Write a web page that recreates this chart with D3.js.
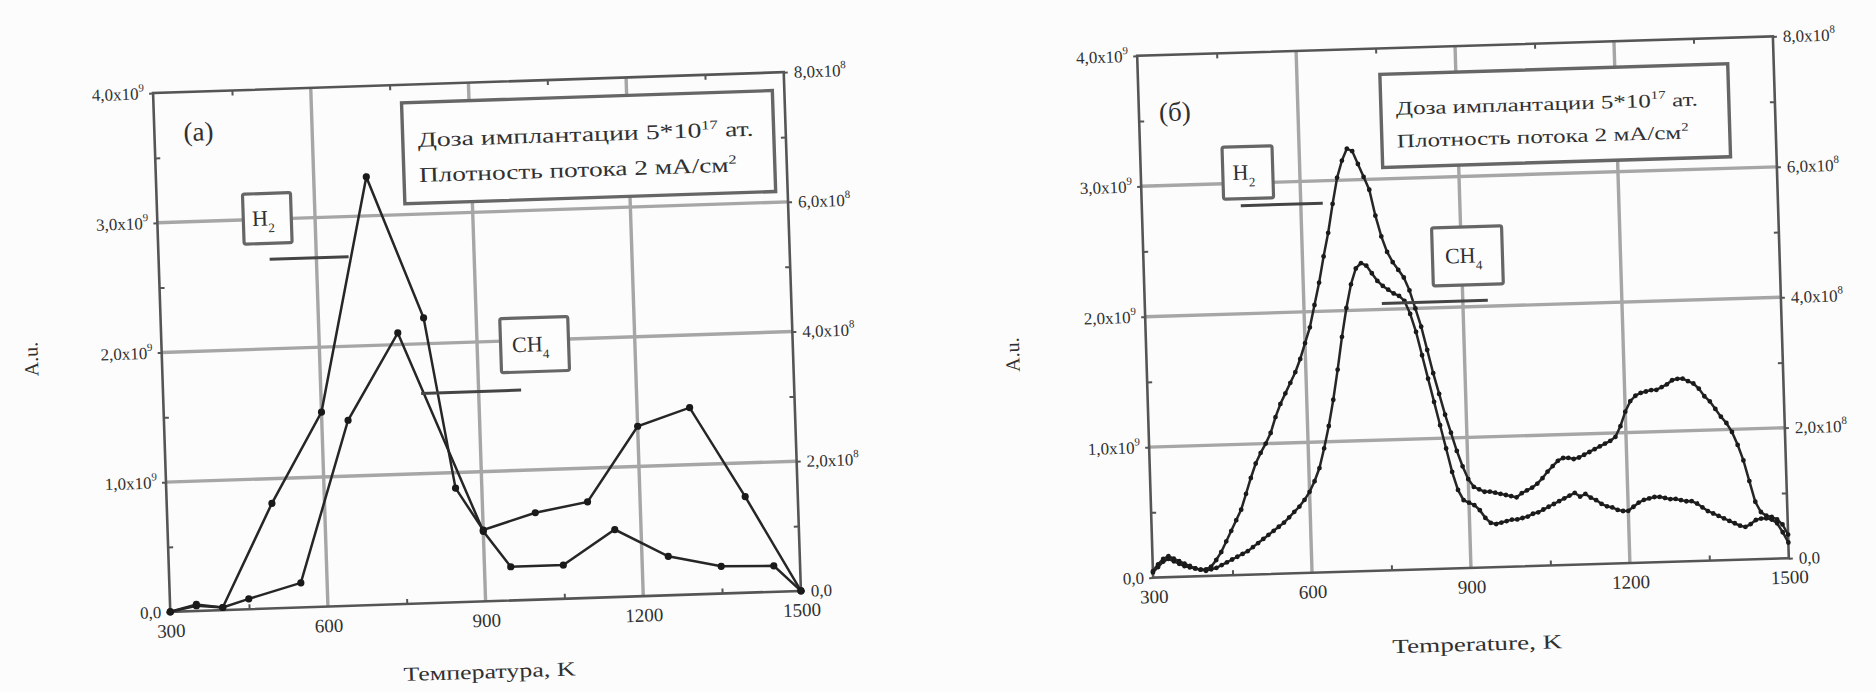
<!DOCTYPE html>
<html>
<head>
<meta charset="utf-8">
<script src="https://d3js.org/d3.v7.min.js"></script>
<style>
  body { margin: 0; background: #fcfcfc; }
  text { font-family: "Liberation Serif", "DejaVu Serif", serif; fill: #303030; }
</style>
</head>
<body>
<div id="chart"></div>
<script>

// ---- data ----
// axis ticks
const tempTicks = [300, 600, 900, 1200, 1500]
const tempMinor = [450, 750, 1050, 1350]
const gridTemps = [600, 900, 1200]
const leftTicks = [0, 1, 2, 3, 4]        // x10^9
const leftGrid = [1, 2, 3]
const leftMinor = [0.5, 1.5, 2.5, 3.5]
const rightTicks = [0, 2, 4, 6, 8]       // x10^8
const rightMinor = [1, 3, 5, 7]

// panel (a): H2 on left axis, CH4 on right axis
const tempH2a = [300, 350, 400, 500, 600, 700, 800, 850, 900, 1000, 1100, 1200, 1300, 1400, 1500]
const h2a = [0, 0.05, 0.02, 0.81, 1.5, 3.3, 2.2, 0.88, 0.55, 0.67, 0.74, 1.31, 1.44, 0.74, 0]
const tempCH4a = [300, 350, 400, 450, 550, 650, 750, 900, 950, 1050, 1150, 1250, 1350, 1450, 1500]
const ch4a = [0, 0.08, 0.04, 0.16, 0.38, 2.86, 4.18, 1.08, 0.52, 0.52, 1.04, 0.6, 0.42, 0.4, 0]

// panel (b): dense measurement, every 10 K
const tempB = [
  300, 310, 320, 330, 340, 350, 360, 370, 380, 390,
  400, 410, 420, 430, 440, 450, 460, 470, 480, 490,
  500, 510, 520, 530, 540, 550, 560, 570, 580, 590,
  600, 610, 620, 630, 640, 650, 660, 670, 680, 690,
  700, 710, 720, 730, 740, 750, 760, 770, 780, 790,
  800, 810, 820, 830, 840, 850, 860, 870, 880, 890,
  900, 910, 920, 930, 940, 950, 960, 970, 980, 990,
  1000, 1010, 1020, 1030, 1040, 1050, 1060, 1070, 1080, 1090,
  1100, 1110, 1120, 1130, 1140, 1150, 1160, 1170, 1180, 1190,
  1200, 1210, 1220, 1230, 1240, 1250, 1260, 1270, 1280, 1290,
  1300, 1310, 1320, 1330, 1340, 1350, 1360, 1370, 1380, 1390,
  1400, 1410, 1420, 1430, 1440, 1450, 1460, 1470, 1480, 1490,
  1500]
const h2b = [
  0.05, 0.10, 0.14, 0.16, 0.14, 0.12, 0.10, 0.08, 0.06, 0.05,
  0.05, 0.07, 0.12, 0.18, 0.26, 0.34, 0.42, 0.50, 0.62, 0.74,
  0.85, 0.93, 1.00, 1.08, 1.20, 1.30, 1.38, 1.46, 1.54, 1.64,
  1.76, 1.88, 2.05, 2.22, 2.42, 2.60, 2.82, 3.02, 3.15, 3.24,
  3.22, 3.12, 3.02, 2.92, 2.72, 2.56, 2.44, 2.36, 2.30, 2.24,
  2.14, 2.00, 1.86, 1.68, 1.50, 1.34, 1.18, 1.04, 0.90, 0.78,
  0.68, 0.62, 0.60, 0.58, 0.58, 0.57, 0.56, 0.55, 0.54, 0.53,
  0.56, 0.58, 0.60, 0.63, 0.67, 0.72, 0.76, 0.80, 0.82, 0.82,
  0.81, 0.82, 0.84, 0.86, 0.88, 0.90, 0.92, 0.94, 0.97, 1.05,
  1.16, 1.24, 1.28, 1.30, 1.31, 1.32, 1.32, 1.34, 1.36, 1.39,
  1.40, 1.40, 1.38, 1.36, 1.32, 1.26, 1.22, 1.16, 1.10, 1.05,
  0.98, 0.88, 0.76, 0.60, 0.44, 0.36, 0.33, 0.32, 0.30, 0.26,
  0.18]
const ch4b = [
  0.08, 0.16, 0.24, 0.28, 0.24, 0.20, 0.16, 0.14, 0.12, 0.10,
  0.08, 0.10, 0.12, 0.16, 0.20, 0.24, 0.28, 0.32, 0.36, 0.42,
  0.48, 0.54, 0.60, 0.66, 0.72, 0.78, 0.86, 0.94, 1.02, 1.12,
  1.24, 1.40, 1.60, 1.90, 2.24, 2.64, 3.10, 3.60, 4.04, 4.40,
  4.64, 4.72, 4.68, 4.56, 4.44, 4.36, 4.30, 4.24, 4.20, 4.12,
  3.92, 3.64, 3.28, 2.92, 2.56, 2.20, 1.84, 1.48, 1.20, 1.04,
  1.00, 0.96, 0.88, 0.76, 0.68, 0.66, 0.68, 0.70, 0.72, 0.72,
  0.74, 0.76, 0.80, 0.82, 0.86, 0.90, 0.94, 0.98, 1.02, 1.06,
  1.10, 1.04, 1.08, 1.02, 0.98, 0.92, 0.88, 0.86, 0.82, 0.80,
  0.80, 0.86, 0.92, 0.96, 0.98, 1.00, 1.00, 0.98, 0.96, 0.96,
  0.94, 0.92, 0.92, 0.88, 0.82, 0.76, 0.72, 0.68, 0.64, 0.60,
  0.56, 0.52, 0.50, 0.54, 0.60, 0.62, 0.62, 0.60, 0.54, 0.40,
  0.24]

// ---- layout ----
const width = 1876, height = 692

const svg = d3.select('#chart').append('svg')
    .attr('width', width)
    .attr('height', height)

// scanned figure: each panel is slightly rotated
const panels = [
  { cx: 477, cy: 342, w: 631, h: 519, rot: -1.9, tag: '(a)', tagPos: [44, 40],
    xTitle: 'Температура, K', xTitlePos: [317, 589], xTitleLen: 172, yTitlePos: [-124, 262],
    note: { x: 248, y: 18, w: 371, h: 101, size: 21 },
    noteLines: ['Доза имплантации 5*10', 'Плотность потока 2 мА/см'],
    noteSup: ['17', '2'], noteTail: [' ат.', ''], noteLen: [336, 318],
    h2Box: [110, 129, 48, 50], h2Lead: [111, 190, 170],
    chBox: [373, 264, 68, 54], chLead: [258, 358, 309],
    h2: d3.zip(tempH2a, h2a), ch4: d3.zip(tempCH4a, ch4a), r: 3.6 },
  { cx: 1463, cy: 307, w: 636, h: 522, rot: -1.75, tag: '(б)', tagPos: [36, 57],
    xTitle: 'Temperature, K', xTitlePos: [322, 598], xTitleLen: 170, yTitlePos: [-127, 295],
    note: { x: 242, y: 26, w: 348, h: 93, size: 19 },
    noteLines: ['Доза имплантации 5*10', 'Плотность потока 2 мА/см'],
    noteSup: ['17', '2'], noteTail: [' ат.', ''], noteLen: [302, 292],
    h2Box: [107, 120, 50, 52], h2Lead: [99, 181, 153],
    chBox: [324, 210, 70, 58], chLead: [237, 343, 255],
    h2: d3.zip(tempB, h2b), ch4: d3.zip(tempB, ch4b), r: 2.4 }
]

function sciLabel(sel, exp) {
    sel.each(function(d) {
        const t = d3.select(this)
        t.text(null)
        if (d === 0) { t.text('0,0'); return }
        t.append('tspan').text(d3.format('.1f')(d).replace('.', ',') + 'x10')
        t.append('tspan').attr('dy', -8).attr('font-size', 11).text(exp)
    })
}

function boxLabel(g, box, main, sub) {
    g.append('rect')
        .attr('x', box[0] - box[2] / 2).attr('y', box[1] - box[3] / 2)
        .attr('width', box[2]).attr('height', box[3])
        .attr('fill', '#fdfdfd').attr('stroke', '#666').attr('stroke-width', 3.2)
        .attr('rx', 2)
    const t = g.append('text')
        .attr('x', box[0] - 4).attr('y', box[1] + 7)
        .attr('text-anchor', 'middle')
        .attr('font-size', 22)
    t.append('tspan').text(main)
    t.append('tspan').attr('dy', 7).attr('font-size', 13).text(sub)
}

function drawPanel(p) {
    const g = svg.append('g')
        .attr('transform', `translate(${p.cx},${p.cy}) rotate(${p.rot}) translate(${-p.w / 2},${-p.h / 2})`)

    const x = d3.scaleLinear().domain([300, 1500]).range([0, p.w])
    const yL = d3.scaleLinear().domain([0, 4]).range([p.h, 0])
    const yR = d3.scaleLinear().domain([0, 8]).range([p.h, 0])

    // grid
    g.append('g').selectAll('line').data(gridTemps).join('line')
        .attr('x1', d => x(d)).attr('x2', d => x(d))
        .attr('y1', 0).attr('y2', p.h)
        .attr('stroke', '#a6a6a6').attr('stroke-width', 3.4)
    g.append('g').selectAll('line').data(leftGrid).join('line')
        .attr('x1', 0).attr('x2', p.w)
        .attr('y1', d => yL(d)).attr('y2', d => yL(d))
        .attr('stroke', '#a6a6a6').attr('stroke-width', 3.4)

    // axes
    const bottom = g.append('g')
        .attr('transform', `translate(0,${p.h})`)
        .call(d3.axisBottom(x).tickValues(tempTicks).tickSize(0).tickPadding(12).tickFormat(d3.format('d')))
    bottom.attr('font-size', 19)

    g.append('g').attr('transform', `translate(0,${p.h})`)
        .call(d3.axisBottom(x).tickValues(tempMinor).tickSize(-5).tickFormat(''))
    g.append('g')
        .call(d3.axisTop(x).tickValues(tempMinor).tickSize(-5).tickFormat(''))

    const left = g.append('g')
        .call(d3.axisLeft(yL).tickValues(leftTicks).tickSize(4).tickPadding(5))
    left.attr('font-size', 17)
    left.selectAll('.tick text').call(sciLabel, '9')
    g.append('g')
        .call(d3.axisLeft(yL).tickValues(leftMinor).tickSize(-5).tickFormat(''))

    const right = g.append('g').attr('transform', `translate(${p.w},0)`)
        .call(d3.axisRight(yR).tickValues(rightTicks).tickSize(4).tickPadding(6))
    right.attr('font-size', 17)
    right.selectAll('.tick text').call(sciLabel, '8')
    g.append('g').attr('transform', `translate(${p.w},0)`)
        .call(d3.axisRight(yR).tickValues(rightMinor).tickSize(-5).tickFormat(''))

    g.selectAll('.domain').remove()
    g.selectAll('.tick line').attr('stroke', '#555').attr('stroke-width', 2)

    // frame
    g.append('rect')
        .attr('width', p.w).attr('height', p.h)
        .attr('fill', 'none').attr('stroke', '#555').attr('stroke-width', 2.6)

    // note box
    const n = p.note
    g.append('rect')
        .attr('x', n.x).attr('y', n.y).attr('width', n.w).attr('height', n.h)
        .attr('fill', '#fdfdfd').attr('stroke', '#666').attr('stroke-width', 3.4)
    p.noteLines.forEach((line, i) => {
        const t = g.append('text')
            .attr('x', n.x + 15).attr('y', n.y + n.h * (0.44 + 0.35 * i))
            .attr('font-size', n.size)
            .attr('textLength', p.noteLen[i])
            .attr('lengthAdjust', 'spacingAndGlyphs')
        t.append('tspan').text(line)
        t.append('tspan').attr('dy', -8).attr('font-size', n.size * 0.6).text(p.noteSup[i])
        t.append('tspan').attr('dy', 8).text(p.noteTail[i])
    })

    // series
    const lineL = d3.line().x(d => x(d[0])).y(d => yL(d[1]))
    const lineR = d3.line().x(d => x(d[0])).y(d => yR(d[1]))

    g.append('path').datum(p.ch4).attr('d', lineR)
        .attr('fill', 'none').attr('stroke', '#262626').attr('stroke-width', 2.5)
    g.append('path').datum(p.h2).attr('d', lineL)
        .attr('fill', 'none').attr('stroke', '#262626').attr('stroke-width', 2.5)

    g.append('g').selectAll('circle').data(p.ch4).join('circle')
        .attr('cx', d => x(d[0])).attr('cy', d => yR(d[1])).attr('r', p.r)
        .attr('fill', '#1a1a1a')
    g.append('g').selectAll('circle').data(p.h2).join('circle')
        .attr('cx', d => x(d[0])).attr('cy', d => yL(d[1])).attr('r', p.r)
        .attr('fill', '#1a1a1a')

    // series labels with leader lines
    boxLabel(g, p.h2Box, 'H', '2')
    g.append('line')
        .attr('x1', p.h2Lead[0]).attr('x2', p.h2Lead[1])
        .attr('y1', p.h2Lead[2]).attr('y2', p.h2Lead[2])
        .attr('stroke', '#444').attr('stroke-width', 3)
    boxLabel(g, p.chBox, 'CH', '4')
    g.append('line')
        .attr('x1', p.chLead[0]).attr('x2', p.chLead[1])
        .attr('y1', p.chLead[2]).attr('y2', p.chLead[2])
        .attr('stroke', '#444').attr('stroke-width', 3)

    // panel tag and titles
    g.append('text')
        .attr('x', p.tagPos[0]).attr('y', p.tagPos[1] + 9)
        .attr('text-anchor', 'middle').attr('font-size', 27)
        .text(p.tag)

    g.append('text')
        .attr('x', p.xTitlePos[0] - p.xTitleLen / 2).attr('y', p.xTitlePos[1] + 7)
        .attr('font-size', 20)
        .attr('textLength', p.xTitleLen)
        .attr('lengthAdjust', 'spacingAndGlyphs')
        .text(p.xTitle)

    g.append('text')
        .attr('transform', `translate(${p.yTitlePos[0]},${p.yTitlePos[1]}) rotate(-90)`)
        .attr('text-anchor', 'middle').attr('font-size', 20)
        .text('A.u.')
}

panels.forEach(drawPanel)

</script>
</body>
</html>
